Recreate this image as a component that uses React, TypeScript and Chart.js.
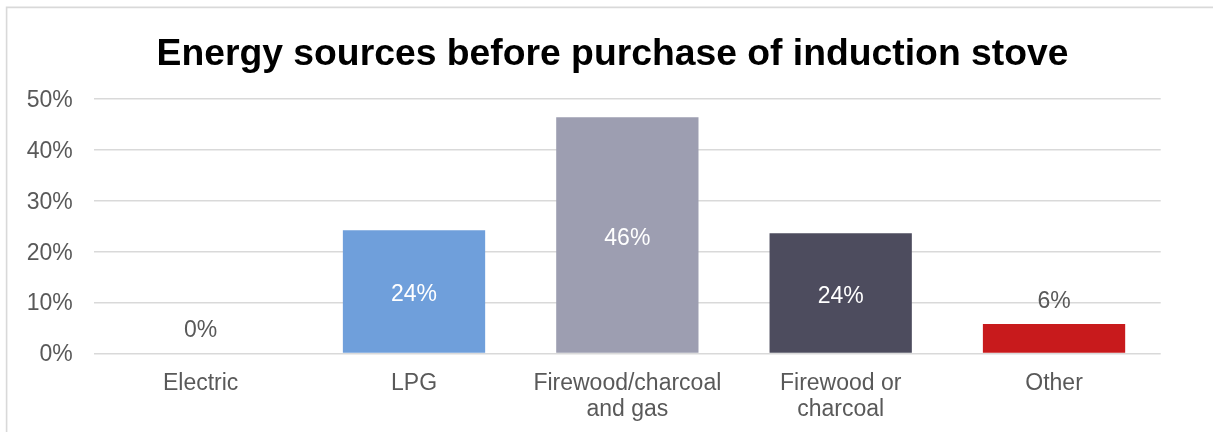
import React, { useEffect, useRef } from "react";
import { Chart, registerables } from "chart.js";

Chart.register(...registerables);

const categories: (string | string[])[] = [
  "Electric",
  "LPG",
  ["Firewood/charcoal", "and gas"],
  ["Firewood or", "charcoal"],
  "Other",
];
const shares: number[] = [0, 24.2, 46.4, 23.6, 5.8];
const barColors: string[] = ["#6F9FDB", "#6F9FDB", "#9D9EB1", "#4D4C5E", "#C81A1C"];
const yTicks: number[] = [0, 10, 20, 30, 40, 50];
const titleText = "Energy sources before purchase of induction stove";

const FONT = '"Liberation Sans", Arial, sans-serif';

const framePlugin = {
  id: "frame",
  beforeDraw(chart: any) {
    const ctx = chart.ctx;
    ctx.save();
    ctx.strokeStyle = "#D9D9D9";
    ctx.lineWidth = 1.6;
    ctx.beginPath();
    ctx.moveTo(6.6, chart.height);
    ctx.lineTo(6.6, 7.4);
    ctx.lineTo(chart.width, 7.4);
    ctx.stroke();
    ctx.restore();
  },
};

const labelPlugin = {
  id: "barLabels",
  afterDatasetsDraw(chart: any) {
    const ctx = chart.ctx;
    const meta = chart.getDatasetMeta(0);
    const data = chart.data.datasets[0].data as number[];
    ctx.save();
    ctx.font = `23px ${FONT}`;
    ctx.textAlign = "center";
    ctx.textBaseline = "middle";
    meta.data.forEach((bar: any, i: number) => {
      const v = data[i];
      const text = `${Math.round(v)}%`;
      const h = bar.base - bar.y;
      if (h > 40) {
        ctx.fillStyle = "#FFFFFF";
        ctx.fillText(text, bar.x, (bar.y + bar.base) / 2 + 3.5);
      } else {
        ctx.fillStyle = "#595959";
        ctx.fillText(text, bar.x, bar.y - 22.5);
      }
    });
    ctx.restore();
  },
};

export default function App() {
  const ref = useRef<HTMLCanvasElement | null>(null);

  useEffect(() => {
    if (!ref.current) return;
    const chart = new Chart(ref.current, {
      type: "bar",
      data: {
        labels: categories,
        datasets: [
          {
            data: shares,
            backgroundColor: barColors,
            borderWidth: 0,
            categoryPercentage: 1,
            barPercentage: 0.667,
          },
        ],
      },
      options: {
        responsive: false,
        animation: false,
        layout: { padding: { left: 12, right: 0, top: 8, bottom: 0 } },
        plugins: {
          legend: { display: false },
          tooltip: { enabled: false },
          title: {
            display: true,
            text: titleText,
            color: "#000000",
            font: { family: FONT, size: 37.3, weight: "bold", lineHeight: 1.2 },
            padding: { top: 24, bottom: 22.2 },
          },
        },
        scales: {
          x: {
            grid: { display: false, drawTicks: false },
            border: { display: false },
            ticks: {
              color: "#595959",
              font: { family: FONT, size: 23, lineHeight: 1.13 },
              padding: 17,
              maxRotation: 0,
              autoSkip: false,
            },
            afterFit(scale: any) {
              scale.height = 432 - 353.5;
            },
          },
          y: {
            min: 0,
            max: 50,
            afterBuildTicks(scale: any) {
              scale.ticks = yTicks.map((v) => ({ value: v }));
            },
            grid: { color: "#D9D9D9", lineWidth: 1.6, drawTicks: false },
            border: { display: false },
            ticks: {
              color: "#595959",
              font: { family: FONT, size: 23 },
              padding: 21.3,
              labelOffset: 1.5,
              callback: (v: any) => `${v}%`,
            },
            afterFit(scale: any) {
              scale.width = 82;
            },
          },
          yRight: {
            position: "right",
            min: 0,
            max: 50,
            grid: { display: false, drawTicks: false },
            border: { display: false },
            ticks: { display: false },
            afterFit(scale: any) {
              scale.width = 52.3;
            },
          },
        },
      },
      plugins: [framePlugin, labelPlugin],
    });
    return () => chart.destroy();
  }, []);

  return (
    <div style={{ position: "absolute", left: 0, top: 0, width: 1213, height: 432, background: "#FFFFFF" }}>
      <canvas ref={ref} width={1213} height={432} style={{ display: "block" }} />
    </div>
  );
}
